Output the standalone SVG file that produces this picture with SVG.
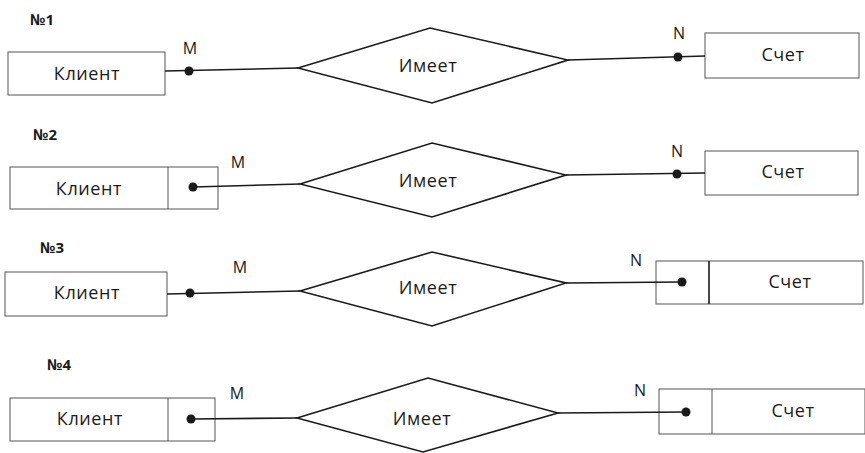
<svg xmlns="http://www.w3.org/2000/svg" width="865" height="453" viewBox="0 0 865 453">
<style>
text{font-family:"Open Sans","Noto Sans","Liberation Sans",sans-serif;fill:#1a1a1a}
.lbl{font-size:18px;text-anchor:middle;letter-spacing:0.6px}
.num{font-size:15px;font-weight:bold}
.card{font-size:16px;text-anchor:middle}
.box{fill:#fff;stroke:#555;stroke-width:1}
.div{stroke:#555;stroke-width:1}
.dia{fill:#fff;stroke:#1a1a1a;stroke-width:1.6}
.con{fill:none;stroke:#1a1a1a;stroke-width:1.6}
.dot{fill:#1a1a1a}
</style>
<rect width="865" height="453" fill="#fff"/>

<g id="titles">
<text class="num" x="30" y="25">№1</text>
<text class="num" x="33" y="140">№2</text>
<text class="num" x="40" y="253">№3</text>
<text class="num" x="47" y="370">№4</text>
</g>

<g id="klient1"><rect class="box" x="8" y="52" width="157" height="43"/><text class="lbl" x="87" y="80">Клиент</text></g>
<g id="imeet1"><polygon class="dia" points="298,68 430,28 568,60 432,103"/><text class="lbl" x="428" y="72">Имеет</text></g>
<g id="schet1"><rect class="box" x="705" y="33" width="154" height="45"/><text class="lbl" x="783" y="61">Счет</text></g>

<g id="klient2"><rect class="box" x="10" y="167" width="208" height="42"/><line class="div" x1="168" y1="167" x2="168" y2="209"/><text class="lbl" x="89" y="195">Клиент</text></g>
<g id="imeet2"><polygon class="dia" points="300,184 432,143 566,175 432,217"/><text class="lbl" x="428" y="187">Имеет</text></g>
<g id="schet2"><rect class="box" x="705" y="151" width="153" height="44"/><text class="lbl" x="783" y="178">Счет</text></g>

<g id="klient3"><rect class="box" x="5" y="272" width="162" height="44"/><text class="lbl" x="87" y="299">Клиент</text></g>
<g id="imeet3"><polygon class="dia" points="300,291 432,252 566,283 432,326"/><text class="lbl" x="428" y="294">Имеет</text></g>
<g id="schet3"><rect class="box" x="656" y="261" width="207" height="43"/><line class="div" x1="709" y1="261" x2="709" y2="304" style="stroke:#1a1a1a;stroke-width:1.6"/><text class="lbl" x="790" y="288">Счет</text></g>

<g id="klient4"><rect class="box" x="10" y="398" width="205" height="43"/><line class="div" x1="168" y1="398" x2="168" y2="441"/><text class="lbl" x="90" y="425">Клиент</text></g>
<g id="imeet4"><polygon class="dia" points="297,418 428,378 558,413 423,452"/><text class="lbl" x="422" y="425">Имеет</text></g>
<g id="schet4"><rect class="box" x="659" y="389" width="206" height="45"/><line class="div" x1="712" y1="389" x2="712" y2="434"/><text class="lbl" x="793" y="417">Счет</text></g>

<g id="connectors">
<polyline class="con" points="165,71 298,68"/>
<polyline class="con" points="568,60 705,56"/>
<polyline class="con" points="193,187 300,184"/>
<polyline class="con" points="566,175 705,173"/>
<polyline class="con" points="167,294 300,291"/>
<polyline class="con" points="566,283 682,282"/>
<polyline class="con" points="191,419 297,418"/>
<polyline class="con" points="558,413 686,412"/>
<circle class="dot" cx="189" cy="71" r="4.5"/>
<circle class="dot" cx="678" cy="57" r="4.5"/>
<circle class="dot" cx="193" cy="187" r="4.5"/>
<circle class="dot" cx="677" cy="174" r="4.5"/>
<circle class="dot" cx="190" cy="293" r="4.5"/>
<circle class="dot" cx="682" cy="282" r="4.5"/>
<circle class="dot" cx="191" cy="419" r="4.5"/>
<circle class="dot" cx="686" cy="412" r="4.5"/>
<text class="card" x="190" y="54">M</text>
<text class="card" x="679" y="39">N</text>
<text class="card" x="238" y="168">M</text>
<text class="card" x="677" y="157">N</text>
<text class="card" x="240" y="273">M</text>
<text class="card" x="636" y="266">N</text>
<text class="card" x="237" y="399">M</text>
<text class="card" x="640" y="396">N</text>
</g>
</svg>
